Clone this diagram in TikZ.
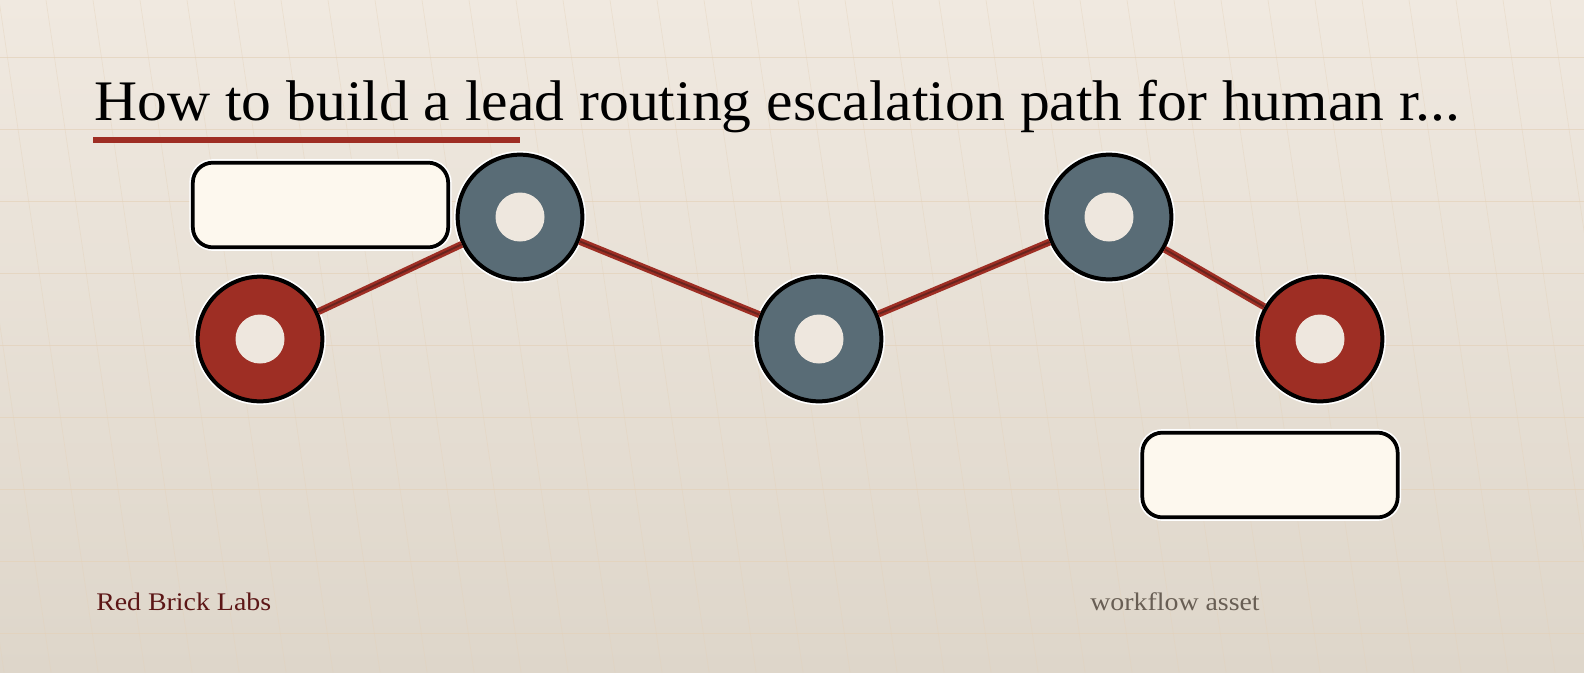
\documentclass[tikz,border=0pt]{standalone}
\usepackage{fontspec}
\setmainfont{Liberation Serif}
\newfontfamily\titlefont[FakeStretch=1.04]{Liberation Serif}
\newfontfamily\footfont[FakeStretch=1.1]{Liberation Serif}

\definecolor{bgTop}{RGB}{240,233,224}
\definecolor{bgBot}{RGB}{222,214,202}
\definecolor{brick}{RGB}{158,46,36}
\definecolor{brickDark}{RGB}{104,36,30}
\definecolor{slate}{RGB}{89,108,118}
\definecolor{hole}{RGB}{238,231,222}
\definecolor{card}{RGB}{253,248,238}
\definecolor{gridLine}{RGB}{228,210,186}
\definecolor{footRed}{RGB}{92,22,22}
\definecolor{footGray}{RGB}{104,94,84}

\tikzset{
  stop/.style={circle, inner sep=0pt, minimum size=93.5pt, draw=black, line width=3pt,
    preaction={draw=white, line width=5.5pt},
    path picture={\fill[hole] (path picture bounding box.center) circle (24.5);}},
  endstop/.style={stop, fill=brick},
  midstop/.style={stop, fill=slate},
  card/.style={rounded corners=15pt, inner sep=0pt, minimum width=191.5pt, minimum height=63.5pt,
    fill=card, draw=black, line width=2.8pt, preaction={draw=white, line width=5.3pt}},
  route/.style={draw=brick, line width=1.9pt, double=brickDark, double distance=1.4pt}
}

\begin{document}
\begin{tikzpicture}[x=0.75pt,y=0.75pt,yscale=-1,xscale=1]
\useasboundingbox (0,0) rectangle (1584,672);

%Background
\shade [top color=bgTop, bottom color=bgBot] (0,0) rectangle (1584,672);
\foreach \y in {57,129,...,633}
  \draw [gridLine, line width=0.6pt, opacity=0.7] (0,\y) -- (1584,\y);
\foreach \x in {-95,-48,...,1600}
  \draw [gridLine, line width=0.5pt, opacity=0.45] (\x,0) -- (\x+99,672);

% Title
\node [anchor=base west, inner sep=0pt, font=\titlefont\fontsize{43}{50}\selectfont] (title) at (94,120)
  {How to build a lead routing escalation path for human r...};
\draw [brick, line width=3.8pt] (93,140) -- (520,140);

%Stops
\node [endstop] (s1) at (260,339) {};
\node [midstop] (s2) at (520,217) {};
\node [midstop] (s3) at (819,339) {};
\node [midstop] (s4) at (1109,217) {};
\node [endstop] (s5) at (1320,339) {};

%Routes
\draw [route] (s1) -- (s2);
\draw [route] (s2) -- (s3);
\draw [route] (s3) -- (s4);
\draw [route] (s4) -- (s5);

%Cards
\node [card] (card1) at (320.5,205) {};
\node [card] (card2) at (1270,475) {};

% Footer
\node [anchor=base west, inner sep=0pt, text=footRed, font=\footfont\fontsize{19}{23}\selectfont] (brand) at (96,610) {Red Brick Labs};
\node [anchor=base west, inner sep=0pt, text=footGray, font=\footfont\fontsize{19}{23}\selectfont] (tag) at (1090,610) {workflow asset};

\end{tikzpicture}
\end{document}
